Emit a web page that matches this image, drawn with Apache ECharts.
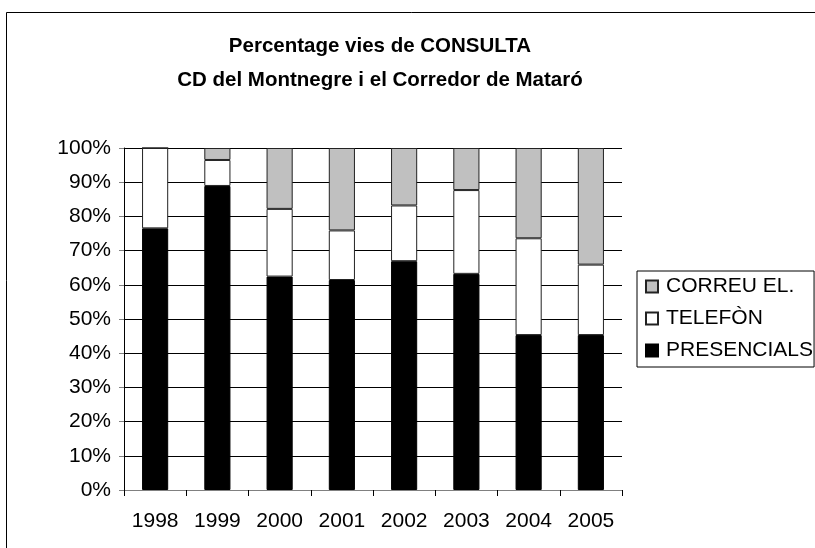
<!DOCTYPE html>
<html><head><meta charset="utf-8">
<script src="https://cdn.jsdelivr.net/npm/echarts@6/dist/echarts.min.js"></script>
<style>html,body{margin:0;padding:0;background:#fff}#c{width:815px;height:548px}</style>
</head><body><div id="c"></div>
<script>
const categories = ['1998','1999','2000','2001','2002','2003','2004','2005'];
const presencials = [76.5, 88.9, 62.4, 61.4, 66.9, 63.2, 45.3, 45.3];
const telefon = [23.5, 7.6, 19.8, 14.5, 16.3, 24.5, 28.3, 20.6];
const correu = [0, 3.5, 17.8, 24.1, 16.8, 12.3, 26.4, 34.1];
const yTicks = [0,10,20,30,40,50,60,70,80,90,100];
const titleLines = ['Percentage vies de CONSULTA', 'CD del Montnegre i el Corredor de Mataró'];

const chart = echarts.init(document.getElementById('c'));
const font = 'Liberation Sans, Arial, sans-serif';
chart.setOption({
  animation: false,
  backgroundColor: '#fff',
  graphic: [
    {type: 'rect', shape: {x: 6.5, y: 12.5, width: 820, height: 560}, style: {fill: 'none', stroke: '#000', lineWidth: 1}, silent: true, z: -1},
    {type: 'text', x: 380, y: 46, style: {text: titleLines[0], fontFamily: font, fontSize: 20.5, fontWeight: 'bold', fill: '#000', align: 'center', verticalAlign: 'middle'}},
    {type: 'text', x: 380, y: 80, style: {text: titleLines[1], fontFamily: font, fontSize: 20.5, fontWeight: 'bold', fill: '#000', align: 'center', verticalAlign: 'middle'}}
  ],
  legend: {
    orient: 'vertical', left: 637, top: 271,
    data: ['CORREU EL.', 'TELEFÒN', 'PRESENCIALS'],
    itemWidth: 12, itemHeight: 12, itemGap: 11,
    padding: [5, 1, 6, 8],
    borderColor: '#000', borderWidth: 1, borderRadius: 0,
    icon: 'rect',
    textStyle: {fontFamily: font, fontSize: 21, color: '#000', padding: [0,0,0,3]}
  },
  grid: {left: 124, right: 193, top: 148, bottom: 58},
  xAxis: {
    type: 'category', data: categories,
    axisLine: {lineStyle: {color: '#808080', width: 1}},
    axisTick: {show: true, alignWithLabel: false, length: 6, lineStyle: {color: '#000'}},
    axisLabel: {fontFamily: font, fontSize: 21, color: '#000', margin: 21}
  },
  yAxis: {
    type: 'value', min: 0, max: 100, interval: 10,
    axisLine: {show: true, lineStyle: {color: '#000'}},
    axisTick: {show: true, length: 5, lineStyle: {color: '#808080'}},
    axisLabel: {fontFamily: font, fontSize: 21, color: '#000', margin: 13,
      formatter: v => yTicks.includes(v) ? v + '%' : ''},
    splitLine: {lineStyle: {color: '#000', width: 1}}
  },
  series: [
    {name: 'PRESENCIALS', type: 'bar', stack: 's', data: presencials, barWidth: '42%',
      itemStyle: {color: '#000', borderColor: '#000', borderWidth: 1}},
    {name: 'TELEFÒN', type: 'bar', stack: 's', data: telefon, barWidth: '42%',
      itemStyle: {color: '#fff', borderColor: '#222', borderWidth: 1}},
    {name: 'CORREU EL.', type: 'bar', stack: 's', data: correu, barWidth: '42%',
      itemStyle: {color: '#c0c0c0', borderColor: '#222', borderWidth: 1}}
  ]
});
</script></body></html>
